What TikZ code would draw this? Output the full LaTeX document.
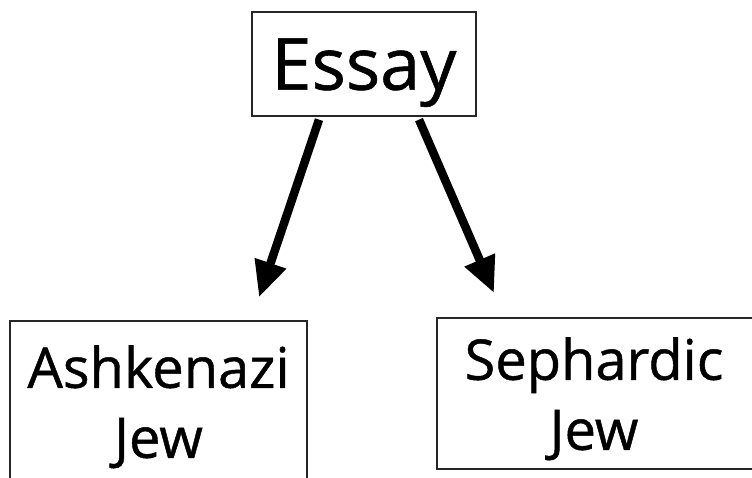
\documentclass[tikz,border=0pt]{standalone}
\usepackage{fontspec}
\setmainfont{Open Sans}[FakeBold=0.8]
\usetikzlibrary{arrows.meta,calc}
\begin{document}
\begin{tikzpicture}[x=1pt,y=1pt,
  boxnode/.style={draw=black!85, line width=1.3pt, rectangle, inner sep=0pt, align=center, text depth=0pt},
  txtnode/.style={inner sep=0pt, align=center, text depth=0pt},
  boxline/.style={draw=black!85, line width=1.3pt},
  bigtxt/.style={font=\fontsize{72}{80}\selectfont},
  midtxt/.style={font=\fontsize{56}{70}\selectfont},
  thickarrow/.style={line width=8.5pt, -{Triangle[length=36pt,width=31pt]}}]
\useasboundingbox (0,0) rectangle (752,-478);
\node[boxnode, bigtxt, minimum width=224pt, minimum height=104pt] (essay) at (364,-64) {Essay};
\node[boxnode, midtxt, minimum width=297pt, minimum height=161pt] (ash) at (158.5,-401.5) {Ashkenazi\\Jew};
\node[txtnode, midtxt] (seph) at (594,-393.5) {Sephardic\\Jew};
\draw[boxline] ($(seph.center)+(-157,75.5)$) rectangle ($(seph.center)+(180,-75.5)$);
\draw[thickarrow] ($(essay.south)+(-45,-3)$) -- ($(ash.north)+(100.5,23)$);
\draw[thickarrow] ($(essay.south)+(55,-3)$) -- ($(seph.center)+(-100,100.5)$);
\end{tikzpicture}
\end{document}
